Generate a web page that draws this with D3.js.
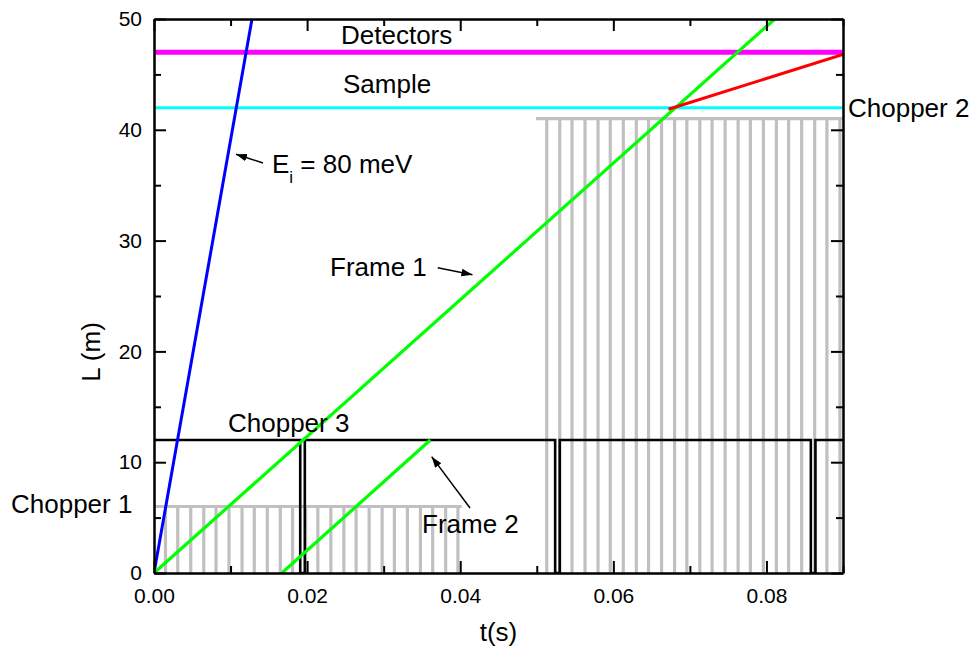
<!DOCTYPE html>
<html>
<head>
<meta charset="utf-8">
<script src="https://cdn.jsdelivr.net/npm/d3@7"></script>
<style>
  body { margin: 0; background: #fff; }
  svg text { font-family: "Liberation Sans", Arial, sans-serif; fill: #000; }
</style>
</head>
<body>
<div id="chart"></div>
<script>
// time-of-flight diagram: distance L (m) vs time t (s)

// axis ranges and ticks
const tRange = [0, 0.09];
const lRange = [0, 50];
const tMajor = [0, 0.02, 0.04, 0.06, 0.08];
const tMinor = [0.01, 0.03, 0.05, 0.07, 0.09];
const lMajor = [0, 10, 20, 30, 40, 50];
const lMinor = [5, 15, 25, 35, 45];

// neutron paths (t in s, L in m)
const beamT = [0, 0.0128];          // Ei = 80 meV
const beamL = [0, 50];
const frame1T = [0, 0.0811];
const frame1L = [0, 50];
const frame2T = [0.0167, 0.0361];
const frame2L = [0, 12];
const scatterT = [0.0672, 0.09];
const scatterL = [41.85, 46.8];

// fixed positions
const sampleL = 42;
const detectorL = 47;

// chopper 1 comb
const chop1L = 6;
const chop1Span = [0, 0.0402];
const chop1T = [0.0015, 0.0031, 0.0048, 0.0065, 0.0081, 0.0098, 0.0115, 0.0131,
  0.0148, 0.0165, 0.0181, 0.0198, 0.0214, 0.0231, 0.0248, 0.0264, 0.0281, 0.0298,
  0.0314, 0.0331, 0.0348, 0.0364, 0.0381, 0.0397];

// chopper 2 comb
const chop2L = 41;
const chop2Span = [0.0499, 0.09];
const chop2T = [0.0513, 0.0530, 0.0546, 0.0563, 0.0580, 0.0596, 0.0613, 0.0630,
  0.0646, 0.0663, 0.0680, 0.0696, 0.0713, 0.0729, 0.0746, 0.0763, 0.0779, 0.0796,
  0.0813, 0.0829, 0.0846, 0.0863, 0.0879, 0.0896];

// chopper 3 openings
const chop3L = 12;
const chop3Open = [[0.0191, 0.0197], [0.0524, 0.0530], [0.0858, 0.0864]];

const width = 976, height = 652;
const margin = { left: 154, right: 133, top: 19, bottom: 79 };

const svg = d3.select('#chart').append('svg')
  .attr('width', width)
  .attr('height', height);

svg.append('rect').attr('width', width).attr('height', height).attr('fill', '#fff');

const x = d3.scaleLinear().domain(tRange).range([margin.left, width - margin.right]);
const y = d3.scaleLinear().domain(lRange).range([height - margin.bottom, margin.top]);

svg.append('defs').append('clipPath').attr('id', 'plot-clip')
  .append('rect')
  .attr('x', x(0)).attr('y', y(50))
  .attr('width', x(0.09) - x(0)).attr('height', y(0) - y(50));

svg.select('defs').append('marker')
  .attr('id', 'arrow')
  .attr('viewBox', '0 0 10 10')
  .attr('refX', 10).attr('refY', 5)
  .attr('markerWidth', 11).attr('markerHeight', 11)
  .attr('markerUnits', 'userSpaceOnUse')
  .attr('orient', 'auto')
  .append('path')
  .attr('d', 'M0,1.5 L10,5 L0,8.5 Z')
  .attr('fill', '#000');

const plot = svg.append('g').attr('clip-path', 'url(#plot-clip)');
const line = d3.line().x(d => x(d[0])).y(d => y(d[1]));

// chopper combs (grey)
function comb(times, level, span) {
  const g = plot.append('g').attr('stroke', '#c0c0c0').attr('stroke-width', 3.2);
  g.append('line')
    .attr('x1', x(span[0])).attr('x2', x(span[1]))
    .attr('y1', y(level)).attr('y2', y(level));
  g.selectAll('line.tooth')
    .data(times)
    .enter().append('line')
    .attr('class', 'tooth')
    .attr('x1', d => x(d)).attr('x2', d => x(d))
    .attr('y1', y(level)).attr('y2', y(0));
}
comb(chop1T, chop1L, chop1Span);
comb(chop2T, chop2L, chop2Span);

// chopper 3 (black step line)
const chop3Pts = [[tRange[0], chop3L]];
chop3Open.forEach(o => {
  chop3Pts.push([o[0], chop3L], [o[0], 0], [o[1], 0], [o[1], chop3L]);
});
chop3Pts.push([tRange[1], chop3L]);
plot.append('path')
  .attr('d', line(chop3Pts))
  .attr('fill', 'none')
  .attr('stroke', '#000')
  .attr('stroke-width', 2.6);

// sample and detector levels
plot.append('line')
  .attr('x1', x(tRange[0])).attr('x2', x(tRange[1]))
  .attr('y1', y(sampleL)).attr('y2', y(sampleL))
  .attr('stroke', '#00ffff').attr('stroke-width', 3);
plot.append('line')
  .attr('x1', x(tRange[0])).attr('x2', x(tRange[1]))
  .attr('y1', y(detectorL)).attr('y2', y(detectorL))
  .attr('stroke', '#ff00ff').attr('stroke-width', 5);

// neutron paths
function path(ts, ls, color, w) {
  plot.append('path')
    .attr('d', line(d3.zip(ts, ls)))
    .attr('fill', 'none')
    .attr('stroke', color)
    .attr('stroke-width', w);
}
path(beamT, beamL, '#0000ff', 3);
path(frame1T, frame1L, '#00ff00', 3.2);
path(frame2T, frame2L, '#00ff00', 3.2);
path(scatterT, scatterL, '#ff0000', 3);

// axes, ticks pointing inward on all sides
const axisG = svg.append('g');
function styleAxis(g) {
  g.selectAll('.domain').attr('stroke', '#000').attr('stroke-width', 2);
  g.selectAll('.tick line').attr('stroke', '#000').attr('stroke-width', 2);
  g.selectAll('.tick text').attr('font-size', 21).attr('fill', '#000')
    .style('font-family', '"Liberation Sans", Arial, sans-serif');
}
const bottomY = y(0), topY = y(50), leftX = x(0), rightX = x(0.09);

axisG.append('g').attr('transform', `translate(0,${bottomY})`)
  .call(d3.axisBottom(x).tickValues(tMajor).tickSize(-12).tickSizeOuter(0)
    .tickPadding(15).tickFormat(d3.format('.2f')))
  .call(styleAxis);
axisG.append('g').attr('transform', `translate(0,${bottomY})`)
  .call(d3.axisBottom(x).tickValues(tMinor).tickSize(-7).tickSizeOuter(0).tickFormat(''))
  .call(styleAxis);
axisG.append('g').attr('transform', `translate(0,${topY})`)
  .call(d3.axisTop(x).tickValues(tMajor).tickSize(-12).tickSizeOuter(0).tickFormat(''))
  .call(styleAxis);
axisG.append('g').attr('transform', `translate(0,${topY})`)
  .call(d3.axisTop(x).tickValues(tMinor).tickSize(-7).tickSizeOuter(0).tickFormat(''))
  .call(styleAxis);
axisG.append('g').attr('transform', `translate(${leftX},0)`)
  .call(d3.axisLeft(y).tickValues(lMajor).tickSize(-12).tickSizeOuter(0)
    .tickPadding(12).tickFormat(d3.format('d')))
  .call(styleAxis);
axisG.append('g').attr('transform', `translate(${leftX},0)`)
  .call(d3.axisLeft(y).tickValues(lMinor).tickSize(-7).tickSizeOuter(0).tickFormat(''))
  .call(styleAxis);
axisG.append('g').attr('transform', `translate(${rightX},0)`)
  .call(d3.axisRight(y).tickValues(lMajor).tickSize(-12).tickSizeOuter(0).tickFormat(''))
  .call(styleAxis);
axisG.append('g').attr('transform', `translate(${rightX},0)`)
  .call(d3.axisRight(y).tickValues(lMinor).tickSize(-7).tickSizeOuter(0).tickFormat(''))
  .call(styleAxis);

// axis titles
svg.append('text')
  .attr('x', (leftX + rightX) / 2).attr('y', 641)
  .attr('text-anchor', 'middle').attr('font-size', 26)
  .text('t(s)');
svg.append('text')
  .attr('transform', 'translate(100,352) rotate(-90)')
  .attr('text-anchor', 'middle').attr('font-size', 26)
  .text('L (m)');

// annotations
const labels = [
  { text: 'Detectors', x: 341, y: 44 },
  { text: 'Sample', x: 343, y: 93 },
  { text: 'Chopper 2', x: 848, y: 117 },
  { text: 'Frame 1', x: 330, y: 276 },
  { text: 'Chopper 3', x: 228, y: 432 },
  { text: 'Chopper 1', x: 11, y: 513 },
  { text: 'Frame 2', x: 422, y: 533 }
];
svg.append('g').selectAll('text')
  .data(labels)
  .enter().append('text')
  .attr('x', d => d.x).attr('y', d => d.y)
  .attr('font-size', 26)
  .text(d => d.text);

const ei = svg.append('text').attr('x', 272).attr('y', 173).attr('font-size', 26);
ei.append('tspan').text('E');
ei.append('tspan').attr('dy', 10).attr('font-size', 17).text('i');
ei.append('tspan').attr('dy', -10).text(' = 80 meV');

// arrows, given in data coordinates [t, L]
const arrows = [
  [[0.01424, 37.0], [0.01071, 37.8]],
  [[0.03706, 27.55], [0.04160, 26.92]],
  [[0.04128, 5.87], [0.03627, 10.5]]
];
svg.append('g').selectAll('line')
  .data(arrows)
  .enter().append('line')
  .attr('x1', d => x(d[0][0])).attr('y1', d => y(d[0][1]))
  .attr('x2', d => x(d[1][0])).attr('y2', d => y(d[1][1]))
  .attr('stroke', '#000').attr('stroke-width', 1.5)
  .attr('marker-end', 'url(#arrow)');
</script>
</body>
</html>
